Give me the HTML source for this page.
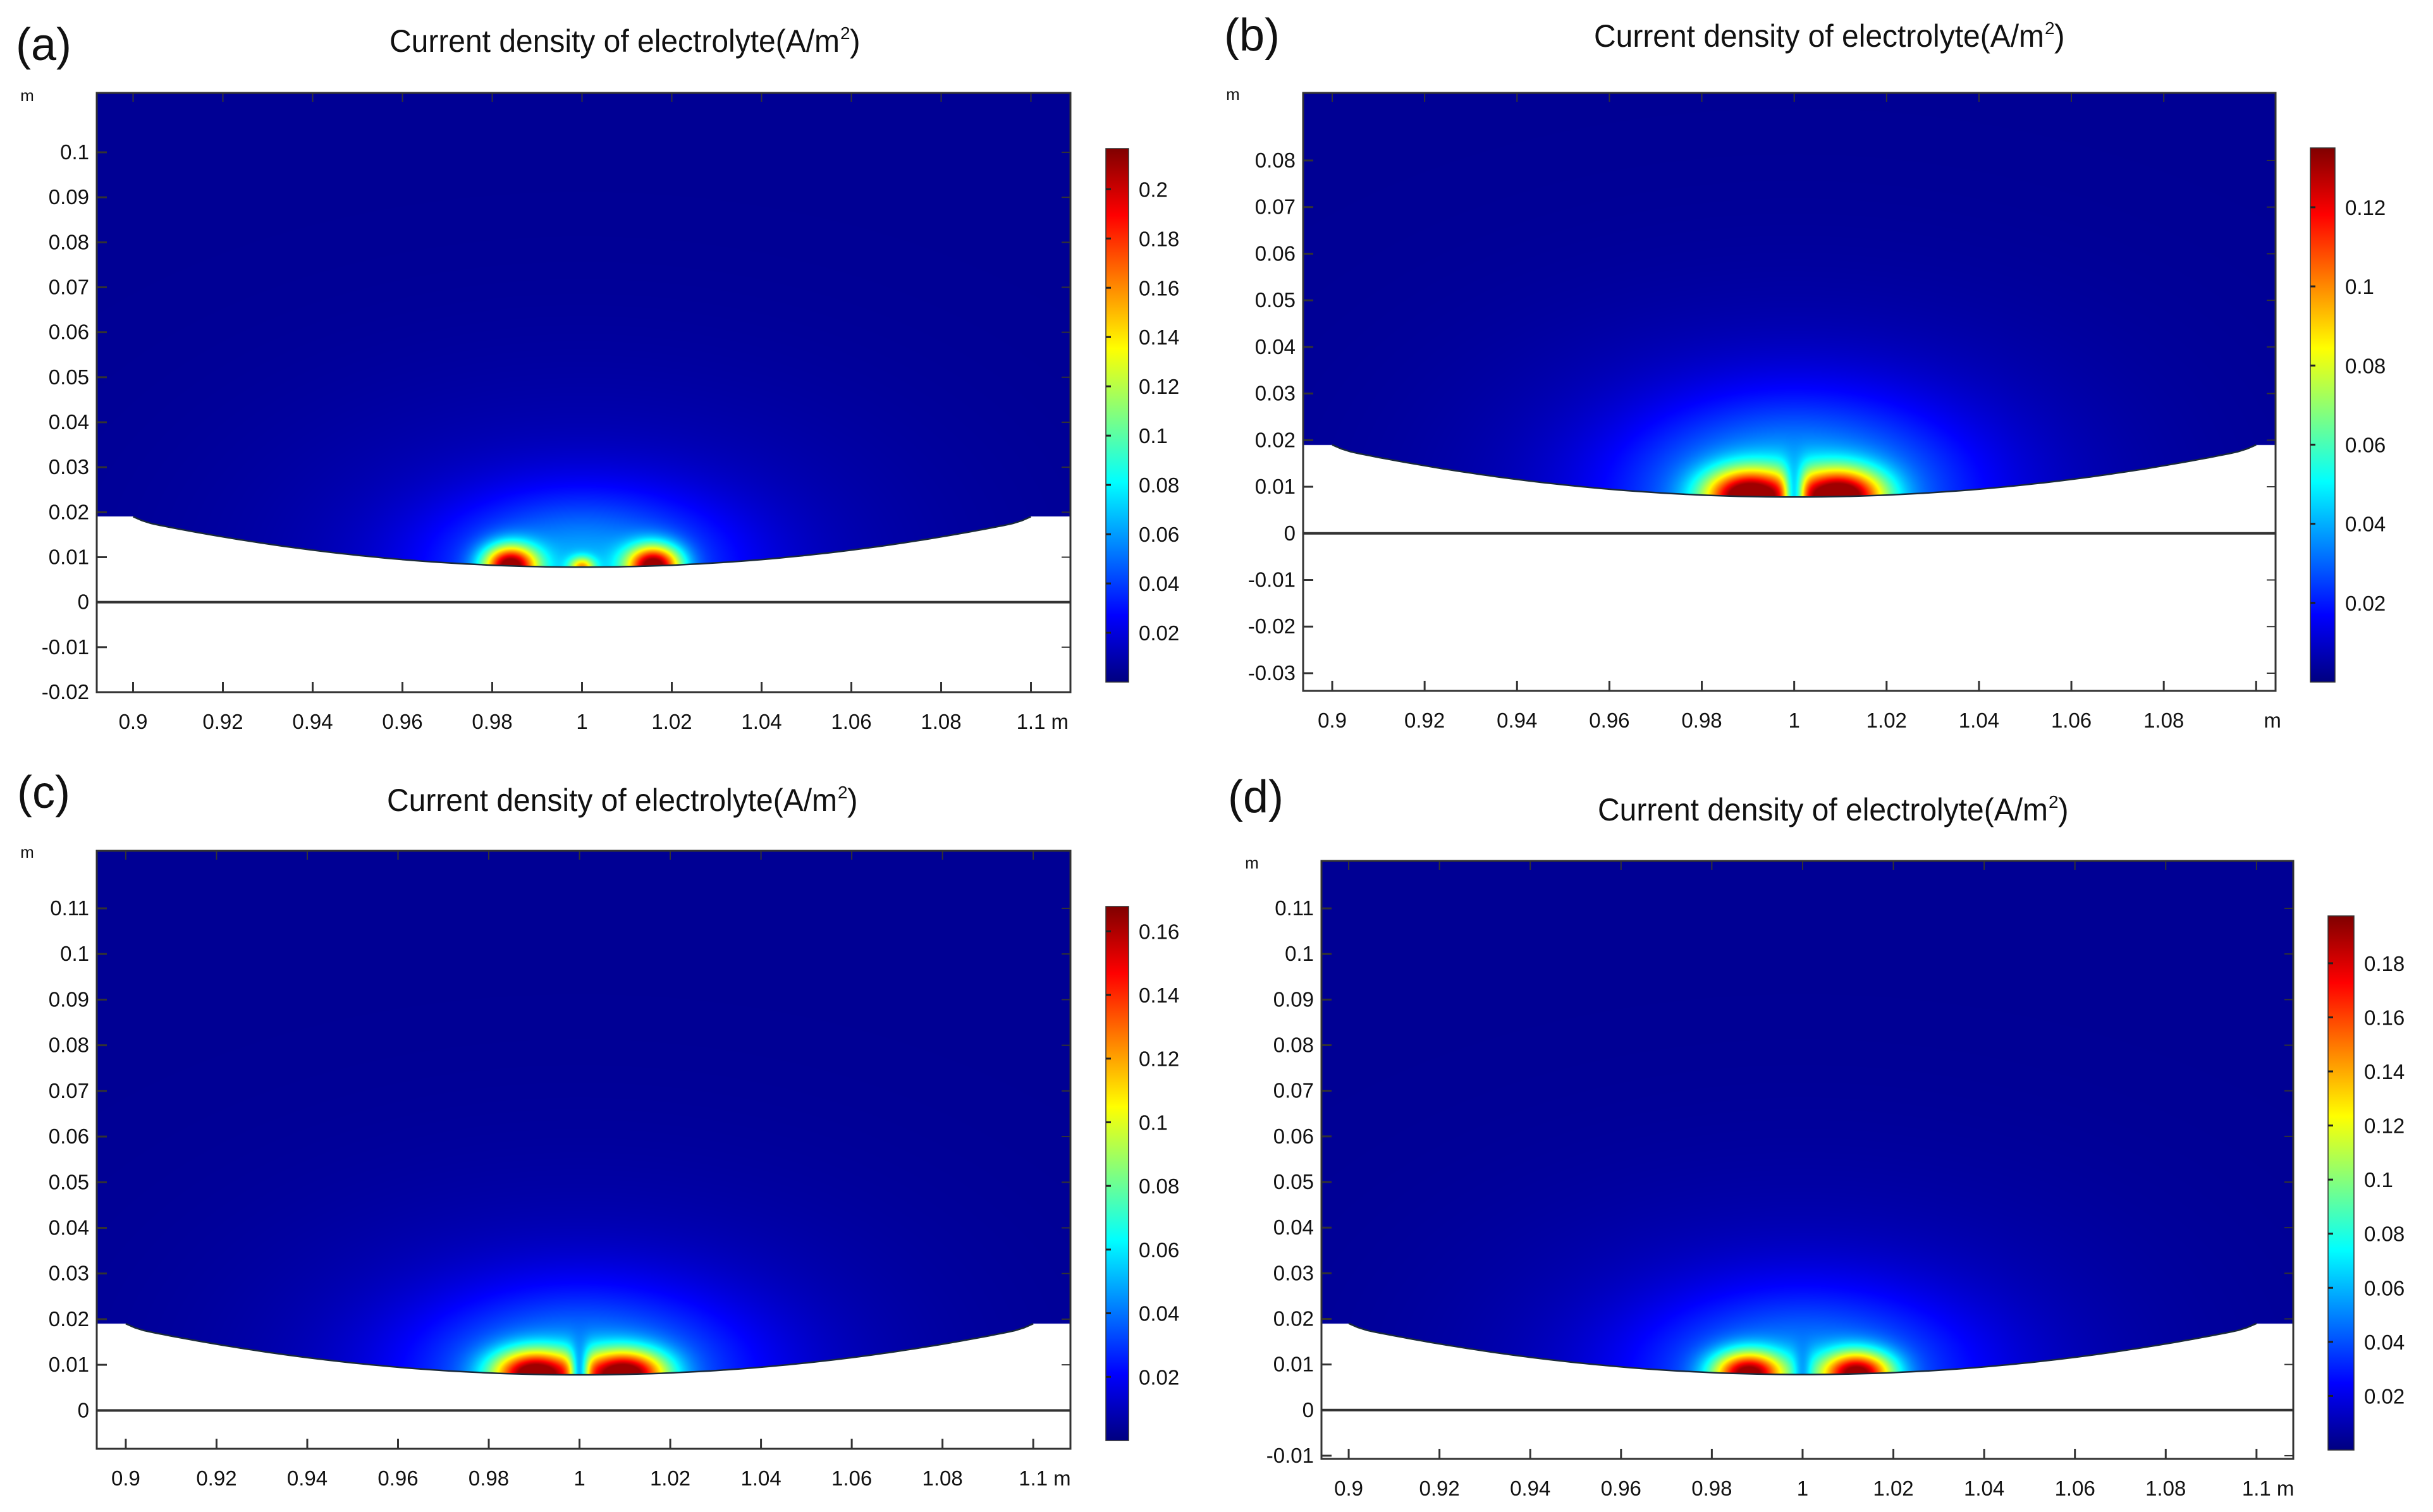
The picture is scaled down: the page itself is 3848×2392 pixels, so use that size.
<!DOCTYPE html>
<html><head><meta charset="utf-8">
<style>
html,body{margin:0;padding:0;background:#fff;}
#root{position:relative;width:3848px;height:2392px;overflow:hidden;background:#fff;}
canvas{position:absolute;}
svg{position:absolute;left:0;top:0;}
text{font-family:"Liberation Sans",sans-serif;fill:#111;}
</style></head>
<body>
<div id="root">
<canvas id="cva"></canvas>
<canvas id="cvb"></canvas>
<canvas id="cvc"></canvas>
<canvas id="cvd"></canvas>
<svg id="ov" width="3848" height="2392" xmlns="http://www.w3.org/2000/svg"></svg>
</div>
<script>
// ---- data ----
const xTickVals = [0.9,0.92,0.94,0.96,0.98,1,1.02,1.04,1.06,1.08,1.1];
const yTicksA = [-0.02,-0.01,0,0.01,0.02,0.03,0.04,0.05,0.06,0.07,0.08,0.09,0.1];
const yTicksB = [-0.03,-0.02,-0.01,0,0.01,0.02,0.03,0.04,0.05,0.06,0.07,0.08];
const yTicksC = [0,0.01,0.02,0.03,0.04,0.05,0.06,0.07,0.08,0.09,0.1,0.11];
const yTicksD = [-0.01,0,0.01,0.02,0.03,0.04,0.05,0.06,0.07,0.08,0.09,0.1,0.11];
const cbTicksA = [0.02,0.04,0.06,0.08,0.1,0.12,0.14,0.16,0.18,0.2];
const cbTicksB = [0.02,0.04,0.06,0.08,0.1,0.12];
const cbTicksC = [0.02,0.04,0.06,0.08,0.1,0.12,0.14,0.16];
const cbTicksD = [0.02,0.04,0.06,0.08,0.1,0.12,0.14,0.16,0.18];
const lobeXA = [0.984,1.0,1.016];
const lobePeakA = [0.95,0.5,0.95];
const lobeXB = [0.99,1.01];
const lobePeakB = [0.95,0.95];
const lobeXC = [0.99,1.01];
const lobePeakC = [0.95,0.95];
const lobeXD = [0.988,1.012];
const lobePeakD = [0.92,0.92];

// ---- layout ----
const panels = [
 {id:'a',label:'(a)',lx:25,ly:95,tx:982,ty:82,unitY:160,unitX:43,
  L:153,R:1693,T:147,B:1095,x0:0.8919,x1:1.1088,y0:-0.02,y1:0.1132,
  cbL:1749,cbR:1785,cbT:235,cbB:1079,cbMax:0.2165,cbTicks:cbTicksA,yTicks:yTicksA,xTicks:xTickVals,mAfter:true,
  lobeX:lobeXA,lobeP:lobePeakA,ax:[0.006,0.0028,0.006],ay:[0.0045,0.0022,0.0045],dip:0,glow:0.24,gsx:0.032,gsy:0.016},
 {id:'b',label:'(b)',lx:1936,ly:80,tx:2887,ty:74,unitY:158,unitX:1950,
  L:2061,R:3599,T:147,B:1093,x0:0.8937,x1:1.1042,y0:-0.0338,y1:0.0945,
  cbL:3654,cbR:3693,cbT:234,cbB:1079,cbMax:0.135,cbTicks:cbTicksB,yTicks:yTicksB,xTicks:xTickVals.slice(0,10),mAfter:false,
  lobeX:lobeXB,lobeP:lobePeakB,ax:[0.0095,0.0095],ay:[0.0058,0.0058],dip:0.0022,glow:0.28,gsx:0.036,gsy:0.02},
 {id:'c',label:'(c)',lx:27,ly:1278,tx:978,ty:1283,unitY:1357,unitX:43,
  L:153,R:1693,T:1346,B:2292,x0:0.8936,x1:1.1082,y0:-0.0084,y1:0.1226,
  cbL:1749,cbR:1785,cbT:1434,cbB:2279,cbMax:0.1678,cbTicks:cbTicksC,yTicks:yTicksC,xTicks:xTickVals,mAfter:true,
  lobeX:lobeXC,lobeP:lobePeakC,ax:[0.0092,0.0092],ay:[0.0052,0.0052],dip:0.002,glow:0.24,gsx:0.036,gsy:0.018},
 {id:'d',label:'(d)',lx:1942,ly:1285,tx:2893,ty:1298,unitY:1374,unitX:1980,
  L:2090,R:3627,T:1362,B:2308,x0:0.894,x1:1.1081,y0:-0.0107,y1:0.1204,
  cbL:3682,cbR:3723,cbT:1449,cbB:2294,cbMax:0.1975,cbTicks:cbTicksD,yTicks:yTicksD,xTicks:xTickVals,mAfter:true,
  lobeX:lobeXD,lobeP:lobePeakD,ax:[0.0078,0.0078],ay:[0.0048,0.0048],dip:0.0018,glow:0.22,gsx:0.036,gsy:0.018}
];

function clamp(v){return v<0?0:v>1?1:v;}
function jet(t){return [clamp(1.5-Math.abs(4*t-3)),clamp(1.5-Math.abs(4*t-2)),clamp(1.5-Math.abs(4*t-1))];}
function surf(x){const u=(x-1)/0.1;const a=Math.abs(u);return 0.0078+0.0105*u*u+0.0007*Math.pow(Math.max(0,(a-0.95)/0.05),2);}
function fmt(v){return String(+v.toFixed(3));}

const svg=document.getElementById('ov');
const NS='http://www.w3.org/2000/svg';
function el(tag,attrs,txt){const e=document.createElementNS(NS,tag);for(const k in attrs)e.setAttribute(k,attrs[k]);if(txt!==undefined)e.textContent=txt;svg.appendChild(e);return e;}

const defs=el('defs',{});
const grad=document.createElementNS(NS,'linearGradient');
grad.setAttribute('id','jetg');grad.setAttribute('x1','0');grad.setAttribute('y1','1');grad.setAttribute('x2','0');grad.setAttribute('y2','0');
for(let i=0;i<=16;i++){const t=i/16;const c=jet(t);const s=document.createElementNS(NS,'stop');s.setAttribute('offset',t);s.setAttribute('stop-color','rgb('+c.map(v=>Math.round(v*255)).join(',')+')');grad.appendChild(s);}
defs.appendChild(grad);

panels.forEach(p=>{
  const W=p.R-p.L,H=p.B-p.T;
  const sx=x=>p.L+(x-p.x0)/(p.x1-p.x0)*W;
  const sy=y=>p.B-(y-p.y0)/(p.y1-p.y0)*H;
  const cv=document.getElementById('cv'+p.id);
  cv.width=W;cv.height=H;cv.style.left=p.L+'px';cv.style.top=p.T+'px';
  const ctx=cv.getContext('2d');const img=ctx.createImageData(W,H);const d=img.data;
  for(let j=0;j<H;j++){
    const y=p.y1-(j+0.5)/H*(p.y1-p.y0);
    for(let i=0;i<W;i++){
      const x=p.x0+(i+0.5)/W*(p.x1-p.x0);
      const k=(j*W+i)*4;
      let inside=y>=0.019||(x>0.9&&x<1.1&&y>=surf(x));
      if(!inside){d[k]=255;d[k+1]=255;d[k+2]=255;d[k+3]=255;continue;}
      const dx=x-1,dy=y-0.008;
      let t=0.02+p.glow*Math.exp(-(dx*dx/(p.gsx*p.gsx)+dy*dy/(p.gsy*p.gsy)))
           +0.045*Math.exp(-(dx*dx/0.0049+dy*dy/0.0016));
      let lob=0;
      for(let m=0;m<p.lobeX.length;m++){
        const lx=x-p.lobeX[m],ly=y-surf(p.lobeX[m]);
        const q=lx*lx/(p.ax[m]*p.ax[m])+ly*ly/(p.ay[m]*p.ay[m]);
        lob+=p.lobeP[m]*Math.exp(-q);
      }
      if(p.dip>0){lob*=(1-Math.exp(-dx*dx/(p.dip*p.dip)));}
      t+=lob*0.85;
      const c=jet(Math.min(t,0.97));
      d[k]=c[0]*255;d[k+1]=c[1]*255;d[k+2]=c[2]*255;d[k+3]=255;
    }
  }
  ctx.putImageData(img,0,0);

  let pts=[];for(let x=0.9;x<=1.1001;x+=0.002)pts.push(sx(x).toFixed(1)+','+sy(surf(x)).toFixed(1));
  const sl=el('polyline',{points:pts.join(' '),fill:'none',stroke:'#1a2a3a','stroke-width':2.5});
  
  
  const zl=el('line',{x1:p.L,x2:p.R,y1:sy(0),y2:sy(0),stroke:'#333','stroke-width':4});
  
  
  const fr=el('rect',{x:p.L,y:p.T,width:W,height:H,fill:'none',stroke:'#333','stroke-width':3});
  
  
  p.xTicks.forEach(v=>{
    const X=sx(v);
    el('line',{x1:X,x2:X,y1:p.B,y2:p.B-16,stroke:'#333','stroke-width':3});
    el('line',{x1:X,x2:X,y1:p.T,y2:p.T+14,stroke:'#333','stroke-width':2});
    const t=el('text',{x:X,y:p.B+58,'font-size':33,'text-anchor':'middle'},fmt(v));
    
    
  });
  if(p.mAfter){
    const m=el('text',{x:sx(1.1)+32,y:p.B+58,'font-size':33},'m');
    
    
  } else {
    el('line',{x1:sx(1.1),x2:sx(1.1),y1:p.B,y2:p.B-16,stroke:'#333','stroke-width':3});
    const m=el('text',{x:sx(1.1)+12,y:p.B+58,'font-size':33},'m');
    
    
  }
  p.yTicks.forEach(v=>{
    const Y=sy(v);
    el('line',{x1:p.L,x2:p.L+16,y1:Y,y2:Y,stroke:'#333','stroke-width':3});
    el('line',{x1:p.R,x2:p.R-14,y1:Y,y2:Y,stroke:'#333','stroke-width':2});
    const t=el('text',{x:p.L-12,y:Y+11,'font-size':33,'text-anchor':'end'},fmt(v));
    
    
  });
  const um=el('text',{x:p.unitX,y:p.unitY,'font-size':26,'text-anchor':'middle'},'m');
  
  
  const cb=el('rect',{x:p.cbL,y:p.cbT,width:p.cbR-p.cbL,height:p.cbB-p.cbT,fill:'url(#jetg)',stroke:'#333','stroke-width':1.5});
  
  
  p.cbTicks.forEach(v=>{
    const Y=p.cbB-v/p.cbMax*(p.cbB-p.cbT);
    el('line',{x1:p.cbL,x2:p.cbL+8,y1:Y,y2:Y,stroke:'#222','stroke-width':3});
    const t=el('text',{x:p.cbR+16,y:Y+12,'font-size':33},fmt(v));
    
    
  });
  const ti=el('text',{x:p.tx-10,y:p.ty,'font-size':50,'text-anchor':'middle',textLength:712,lengthAdjust:'spacingAndGlyphs'},'Current density of electrolyte(A/m');
  
  
  const bb=ti.getBBox();
  const sup=el('text',{x:bb.x+bb.width+1,y:p.ty-20,'font-size':28},'2');
  
  
  const cp=el('text',{x:bb.x+bb.width+16,y:p.ty,'font-size':50},')');
  
  
  const lb=el('text',{x:p.lx,y:p.ly,'font-size':72},p.label);
  
  
});
</script>
</body></html>
